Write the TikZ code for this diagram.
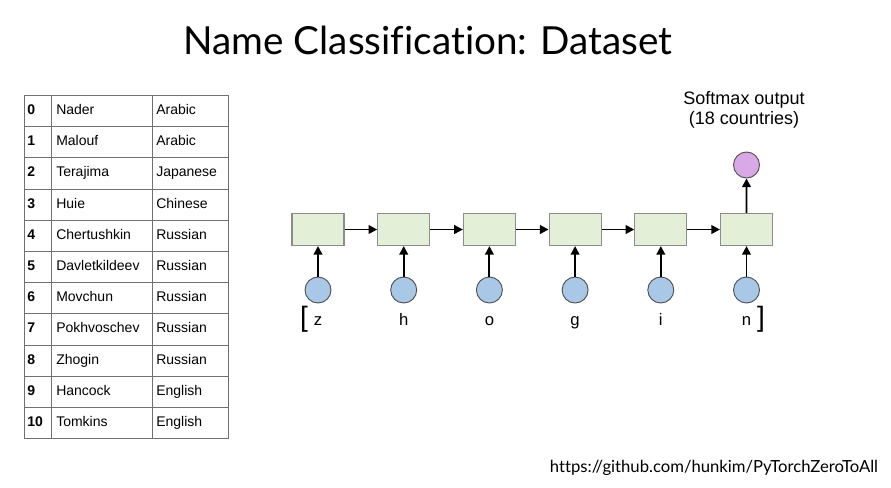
\documentclass[tikz,border=0pt]{standalone}
\usepackage{fontspec}
\setmainfont{Liberation Sans}
\newfontfamily\titlefont[Ligatures=NoCommon]{Lato}
\usetikzlibrary{arrows.meta}
\definecolor{boxfill}{HTML}{E3EFD6}
\definecolor{boxline}{HTML}{8C8C8C}
\definecolor{infill}{HTML}{A9C7E6}
\definecolor{outfill}{HTML}{D8A9E6}
\definecolor{circline}{HTML}{505050}
\definecolor{gridline}{HTML}{707070}
\begin{document}
\begin{tikzpicture}[x=0.75pt,y=-0.75pt,
  cell/.style={anchor=west,inner sep=0pt,font=\fontsize{10.5}{12}\selectfont,text height=0.72em,text depth=0.2em},
  rnnbox/.style={draw=boxline,fill=boxfill,line width=0.8pt,minimum width=39pt,minimum height=24pt,inner sep=0pt},
  incirc/.style={circle,draw=circline,fill=infill,line width=0.7pt,minimum size=19.5pt,inner sep=0pt},
  outcirc/.style={circle,draw=circline,fill=outfill,line width=0.7pt,minimum size=19.5pt,inner sep=0pt},
  conn/.style={line width=1.4pt,-{Triangle[length=6.5pt,width=6.5pt]}},
  letter/.style={inner sep=0pt,font=\fontsize{12.5}{14}\selectfont,text height=0.72em,text depth=0.2em},
  bracket/.style={inner sep=0pt,font=\fontsize{21}{22}\selectfont},
  tableline/.style={draw=gridline,line width=0.6pt}]
\useasboundingbox[fill=white] (0,0) rectangle (891,487);

% title
\node[font=\titlefont\fontsize{29}{32}\selectfont] (title) at (428,40) {Name Classification: Dataset};

% table
\draw[tableline] (24,95.4) rectangle (228,438.6);
\draw[tableline] (51,95.4) -- (51,438.6);
\draw[tableline] (152,95.4) -- (152,438.6);
\foreach \k in {1,...,10} {\draw[tableline] (24,95.4+31.2*\k) -- (228,95.4+31.2*\k);}
\foreach \i/\n/\c in {0/Nader/Arabic,1/Malouf/Arabic,2/Terajima/Japanese,3/Huie/Chinese,
  4/Chertushkin/Russian,5/Davletkildeev/Russian,6/Movchun/Russian,7/Pokhvoschev/Russian,
  8/Zhogin/Russian,9/Hancock/English,10/Tomkins/English} {
  \node[cell,font=\fontsize{10.5}{12}\selectfont\bfseries] (idx\i) at (27,111+31.2*\i) {\i};
  \node[cell] (name\i) at (56,111+31.2*\i) {\n};
  \node[cell] (cty\i) at (156,111+31.2*\i) {\c};
}

% RNN
\foreach \k/\ch in {1/z,2/h,3/o,4/g,5/i,6/n} {
  \node[rnnbox] (b\k) at (318+85.7*\k-85.7,229.5) {};
  \node[incirc] (c\k) at (318+85.7*\k-85.7,290) {};
  \node[letter] (l\k) at (318+85.7*\k-85.7,322) {\ch};
  \draw[conn] (c\k) -- (b\k);
}
\foreach \k [evaluate=\k as \j using int(\k+1)] in {1,...,5} {
  \draw[conn] (b\k) -- (b\j);
}
\node[outcirc] (out) at (746.5,165) {};
\draw[conn] (b6) -- (out);
\node[bracket] (lbr) at (304,319) {[};
\node[bracket] (rbr) at (761,319) {]};
\node[align=center,inner sep=0pt,font=\fontsize{13.5}{15}\selectfont] (soft) at (744,110) {Softmax output\\(18 countries)};

% url
\node[font=\titlefont\fontsize{12.5}{14}\selectfont,inner sep=0pt] (url) at (714,468) {https://github.com/hunkim/PyTorchZeroToAll};
\end{tikzpicture}
\end{document}
